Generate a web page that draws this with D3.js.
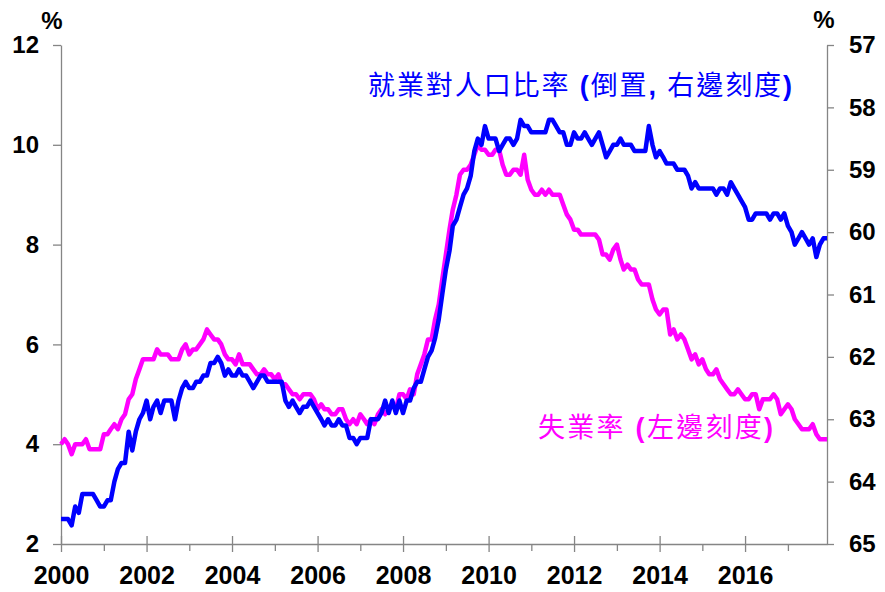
<!DOCTYPE html>
<html>
<head>
<meta charset="utf-8">
<script src="https://cdn.jsdelivr.net/npm/d3@7"></script>
<style>
  body { margin: 0; background: #fff; }
  text { font-family: "Liberation Sans", Arial, sans-serif; }
</style>
</head>
<body>
<svg id="canvas" width="885" height="592"></svg>
<script>
// monthly data, Jan 2000 .. Dec 2017 (one row per year)
var unemploymentRate = [
  4.0,4.1,4.0,3.8,4.0,4.0,4.0,4.1,3.9,3.9,3.9,3.9,
  4.2,4.2,4.3,4.4,4.3,4.5,4.6,4.9,5.0,5.3,5.5,5.7,
  5.7,5.7,5.7,5.9,5.8,5.8,5.8,5.7,5.7,5.7,5.9,6.0,
  5.8,5.9,5.9,6.0,6.1,6.3,6.2,6.1,6.1,6.0,5.8,5.7,
  5.7,5.6,5.8,5.6,5.6,5.6,5.5,5.4,5.4,5.5,5.4,5.4,
  5.3,5.4,5.2,5.2,5.1,5.0,5.0,4.9,5.0,5.0,5.0,4.9,
  4.7,4.8,4.7,4.7,4.6,4.6,4.7,4.7,4.5,4.4,4.5,4.4,
  4.6,4.5,4.4,4.5,4.4,4.6,4.7,4.6,4.7,4.8,4.7,5.0,
  5.0,4.9,5.1,5.0,5.4,5.6,5.8,6.1,6.1,6.5,6.8,7.3,
  7.8,8.3,8.7,9.0,9.4,9.5,9.5,9.6,9.8,10.0,9.9,9.9,
  9.8,9.8,9.9,9.9,9.6,9.4,9.4,9.5,9.5,9.4,9.8,9.3,
  9.1,9.0,9.0,9.1,9.0,9.1,9.0,9.0,9.0,8.8,8.6,8.5,
  8.3,8.3,8.2,8.2,8.2,8.2,8.2,8.1,7.8,7.8,7.7,7.9,
  8.0,7.7,7.5,7.6,7.5,7.5,7.3,7.2,7.2,7.2,6.9,6.7,
  6.6,6.7,6.7,6.2,6.3,6.1,6.2,6.1,5.9,5.7,5.8,5.6,
  5.7,5.5,5.4,5.4,5.5,5.3,5.2,5.1,5.0,5.0,5.1,5.0,
  4.9,4.9,5.0,5.0,4.7,4.9,4.9,4.9,5.0,4.9,4.6,4.7,
  4.8,4.7,4.5,4.4,4.3,4.3,4.3,4.4,4.2,4.1,4.1,4.1
];

var empPopRatio = [
  64.6,64.6,64.6,64.7,64.4,64.5,64.2,64.2,64.2,64.2,64.3,64.4,
  64.4,64.3,64.3,64.0,63.8,63.7,63.7,63.2,63.5,63.2,63.0,62.9,
  62.7,63.0,62.8,62.7,62.9,62.7,62.7,62.7,63.0,62.7,62.5,62.4,
  62.5,62.5,62.4,62.4,62.3,62.3,62.1,62.1,62.0,62.1,62.3,62.2,
  62.3,62.3,62.2,62.3,62.3,62.4,62.5,62.4,62.3,62.3,62.4,62.4,
  62.4,62.4,62.4,62.7,62.8,62.7,62.8,62.9,62.8,62.8,62.7,62.8,
  62.9,63.0,63.1,63.0,63.1,63.1,63.0,63.1,63.1,63.3,63.3,63.4,
  63.3,63.3,63.3,63.0,63.0,63.0,62.9,62.7,62.9,62.7,62.9,62.7,
  62.9,62.7,62.7,62.5,62.4,62.4,62.2,62.0,61.9,61.7,61.4,61.0,
  60.6,60.3,59.9,59.8,59.6,59.4,59.3,59.1,58.7,58.5,58.6,58.3,
  58.5,58.5,58.5,58.7,58.6,58.5,58.5,58.6,58.5,58.2,58.3,58.3,
  58.4,58.4,58.4,58.4,58.4,58.2,58.2,58.3,58.4,58.4,58.6,58.6,
  58.4,58.5,58.5,58.4,58.5,58.6,58.5,58.4,58.6,58.8,58.7,58.6,
  58.6,58.5,58.6,58.6,58.6,58.7,58.7,58.7,58.7,58.3,58.6,58.8,
  58.7,58.8,58.9,58.9,58.9,59.0,59.0,59.0,59.1,59.3,59.2,59.3,
  59.3,59.3,59.3,59.3,59.4,59.3,59.3,59.4,59.2,59.3,59.4,59.5,
  59.6,59.8,59.8,59.7,59.7,59.7,59.7,59.8,59.7,59.7,59.8,59.7,
  59.9,60.0,60.2,60.1,60.0,60.1,60.2,60.1,60.4,60.2,60.1,60.1
];

var startMonth = new Date(2000, 0, 1);
var endMonth = new Date(2017, 11, 1);
var majorYears = [2000, 2002, 2004, 2006, 2008, 2010, 2012, 2014, 2016];
var minorYears = [2001, 2003, 2005, 2007, 2009, 2011, 2013, 2015, 2017];
var leftTicks = [2, 4, 6, 8, 10, 12];
var rightTicks = [57, 58, 59, 60, 61, 62, 63, 64, 65];

var blueLabel = ['就業對人口比率', ' (', '倒置', ', ', '右邊刻度', ')'];
var pinkLabel = ['失業率', ' (', '左邊刻度', ')'];

var axisColor = '#858585';
var blue = '#0000ff';
var magenta = '#ff00ff';

// ************************************************************************************************** //
// Scales

var plot = { left: 61, right: 827, top: 45, bottom: 544 };

var xScale = d3.scaleTime().domain([startMonth, endMonth]).range([plot.left, plot.right]);
var yLeft = d3.scaleLinear().domain([2, 12]).range([plot.bottom, plot.top]);
var yRight = d3.scaleLinear().domain([57, 65]).range([plot.top, plot.bottom]);   // inverted

var months = d3.range(unemploymentRate.length).map((i) => { return d3.timeMonth.offset(startMonth, i) });

var svg = d3.select('#canvas');

// ************************************************************************************************** //
// Axes

function styleAxis(g, size){
  g.selectAll('path, line').attr('stroke', axisColor).attr('stroke-width', 1.3);
  g.selectAll('text').attr('fill', '#000').style('font-weight', 'bold').style('font-size', size + 'px');
}

var xMajor = svg.append('g').attr('transform', 'translate(0,' + plot.bottom + ')')
  .call(d3.axisBottom(xScale).tickValues(majorYears.map((y) => { return new Date(y, 0, 1) }))
    .tickFormat(d3.timeFormat('%Y')).tickSize(8).tickSizeOuter(0).tickPadding(14));
xMajor.selectAll('.tick line').attr('y1', -8);
styleAxis(xMajor, 25);

var xMinor = svg.append('g').attr('transform', 'translate(0,' + plot.bottom + ')')
  .call(d3.axisBottom(xScale).tickValues(minorYears.map((y) => { return new Date(y, 0, 1) }))
    .tickFormat('').tickSize(7).tickSizeOuter(0));
xMinor.select('.domain').remove();
styleAxis(xMinor, 25);

var leftAxis = svg.append('g').attr('transform', 'translate(' + plot.left + ',0)')
  .call(d3.axisLeft(yLeft).tickValues(leftTicks).tickSize(8).tickSizeOuter(0).tickPadding(14));
styleAxis(leftAxis, 24);

var rightAxis = svg.append('g').attr('transform', 'translate(' + plot.right + ',0)')
  .call(d3.axisRight(yRight).tickValues(rightTicks).tickSize(7).tickSizeOuter(0).tickPadding(15));
styleAxis(rightAxis, 24);

svg.append('text').attr('x', 52).attr('y', 29).attr('text-anchor', 'middle')
  .style('font-weight', 'bold').style('font-size', '24px').text('%');
svg.append('text').attr('x', 824).attr('y', 28).attr('text-anchor', 'middle')
  .style('font-weight', 'bold').style('font-size', '24px').text('%');

// ************************************************************************************************** //
// Lines

var pinkLine = d3.line().x((d, i) => { return xScale(months[i]) }).y((d) => { return yLeft(d) });
var blueLine = d3.line().x((d, i) => { return xScale(months[i]) }).y((d) => { return yRight(d) });

svg.append('path').datum(unemploymentRate).attr('d', pinkLine)
  .attr('fill', 'none').attr('stroke', magenta).attr('stroke-width', 4.5).attr('stroke-linejoin', 'round');
svg.append('path').datum(empPopRatio).attr('d', blueLine)
  .attr('fill', 'none').attr('stroke', blue).attr('stroke-width', 4.5).attr('stroke-linejoin', 'round');

// ************************************************************************************************** //
// Labels

function addLabel(parts, x, y, width, color){
  var t = svg.append('text').attr('x', x).attr('y', y).attr('fill', color)
    .attr('textLength', width).attr('lengthAdjust', 'spacing').style('font-size', '27px');
  parts.forEach((p) => {
    var cjk = /[\u3400-\u9fff]/.test(p);
    t.append('tspan').text(p)
      .style('font-family', cjk ? '"Noto Sans CJK TC", sans-serif' : '"Liberation Sans", Arial, sans-serif')
      .style('font-weight', cjk ? 'normal' : 'bold');
  });
}

addLabel(blueLabel, 368, 95, 424, blue);
addLabel(pinkLabel, 538, 437, 235, magenta);
</script>
</body>
</html>
